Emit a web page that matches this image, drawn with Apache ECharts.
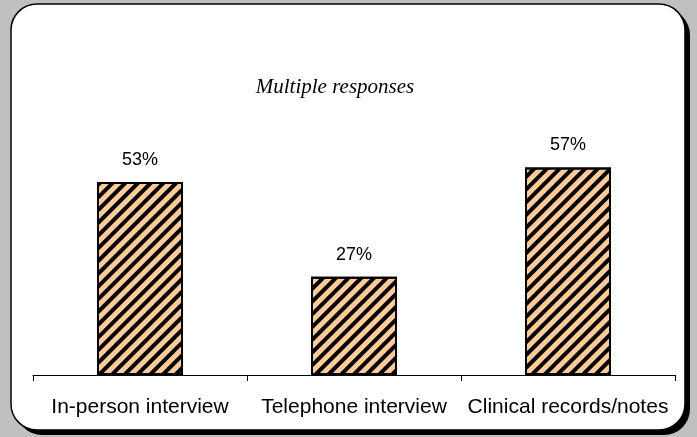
<!DOCTYPE html>
<html>
<head>
<meta charset="utf-8">
<script src="https://cdn.jsdelivr.net/npm/echarts@6/dist/echarts.min.js"></script>
<style>
  html, body { margin: 0; padding: 0; background: #c0c0c0; }
  #main { width: 697px; height: 437px; }
</style>
</head>
<body>
<div id="main"></div>
<script>
// data
const categories = ['In-person interview', 'Telephone interview', 'Clinical records/notes']
const shares = [53, 27, 57]
const note = 'Multiple responses'

const chart = echarts.init(document.getElementById('main'))

const option = {
  backgroundColor: '#c0c0c0',
  animation: false,
  graphic: [
    {
      type: 'rect',
      z: -10,
      shape: { x: 16, y: 9, width: 674, height: 426, r: 26 },
      style: { fill: '#000' }
    },
    {
      type: 'rect',
      z: -9,
      shape: { x: 11, y: 4, width: 674, height: 426, r: 26 },
      style: { fill: '#fff', stroke: '#000', lineWidth: 1.5 }
    }
  ],
  title: {
    text: note,
    left: 330,
    top: 72,
    textAlign: 'center',
    textStyle: {
      fontFamily: 'Liberation Serif',
      fontStyle: 'italic',
      fontWeight: 'normal',
      fontSize: 21,
      color: '#000'
    }
  },
  grid: { left: 33, right: 22, top: 11, bottom: 62 },
  xAxis: {
    type: 'category',
    data: categories,
    axisLine: { lineStyle: { color: '#000', width: 1 } },
    axisTick: { show: true, length: 6, lineStyle: { color: '#000' } },
    axisLabel: {
      color: '#000',
      fontFamily: 'Liberation Sans',
      fontSize: 21,
      margin: 22,
      interval: 0
    }
  },
  yAxis: {
    type: 'value',
    min: 0,
    max: 100,
    show: false
  },
  series: [
    {
      type: 'bar',
      data: shares,
      barWidth: 86,
      itemStyle: {
        color: '#ffcc99',
        borderColor: '#000',
        borderWidth: 2,
        decal: {
          symbol: 'rect',
          symbolSize: 1,
          color: '#000',
          dashArrayX: [1, 0],
          dashArrayY: [3.5, 4.5],
          rotation: -Math.PI / 4
        }
      },
      label: {
        show: true,
        position: 'top',
        distance: 13,
        formatter: '{c}%',
        color: '#000',
        fontFamily: 'Liberation Sans',
        fontSize: 18
      }
    }
  ]
}

chart.setOption(option)
</script>
</body>
</html>
